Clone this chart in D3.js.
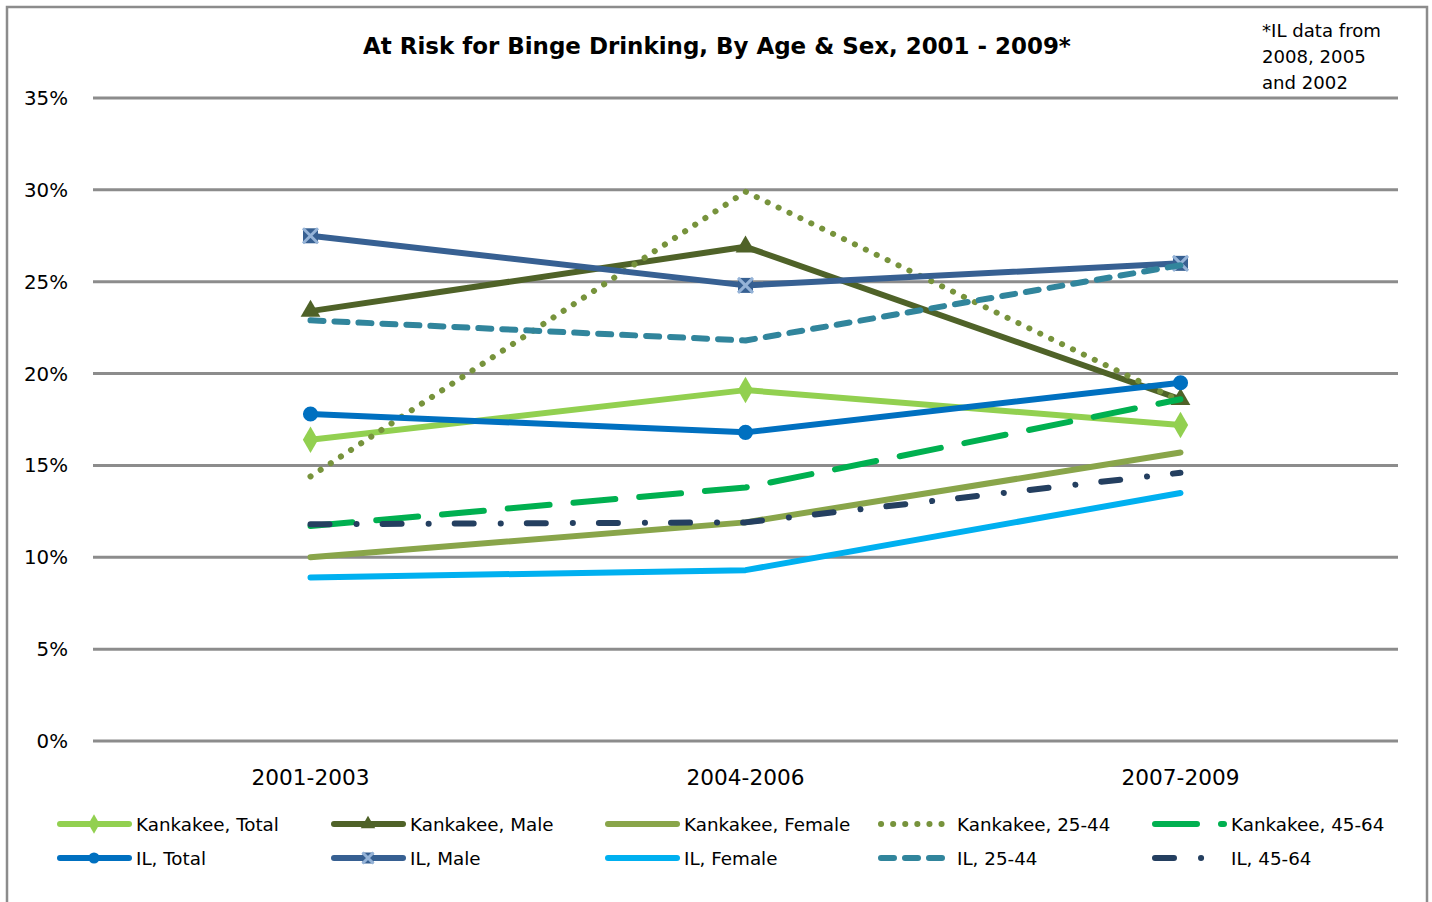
<!DOCTYPE html>
<html><head><meta charset="utf-8">
<script src="https://cdn.jsdelivr.net/npm/d3@7"></script>
<style>body{margin:0;background:#fff}svg{display:block}text{font-family:"DejaVu Sans",sans-serif;fill:#000}</style>
</head><body>
<svg id="c" width="1432" height="902"></svg>
<script>
const categories = ["2001-2003", "2004-2006", "2007-2009"];
const yTicks = [0, 5, 10, 15, 20, 25, 30, 35];
const seriesNames = ["Kankakee, Total", "Kankakee, Male", "Kankakee, Female", "Kankakee, 25-44", "Kankakee, 45-64",
                     "IL, Total", "IL, Male", "IL, Female", "IL, 25-44", "IL, 45-64"];
const kankakeeTotal  = [16.4, 19.1, 17.2];
const kankakeeMale   = [23.4, 26.9, 18.6];
const kankakeeFemale = [10.0, 11.9, 15.7];
const kankakee2544   = [14.4, 29.9, 18.5];
const kankakee4564   = [11.7, 13.8, 18.6];
const ilTotal        = [17.8, 16.8, 19.5];
const ilMale         = [27.5, 24.8, 26.0];
const ilFemale       = [8.9, 9.3, 13.5];
const il2544         = [22.9, 21.8, 25.9];
const il4564         = [11.8, 11.9, 14.6];
const seriesValues = [kankakeeTotal, kankakeeMale, kankakeeFemale, kankakee2544, kankakee4564,
                      ilTotal, ilMale, ilFemale, il2544, il4564];
const titleText = "At Risk for Binge Drinking, By Age & Sex, 2001 - 2009*";
const noteLines = ["*IL data from", "2008, 2005", "and 2002"];

const styles = [
  {color:"#92d050", dash:null, marker:"diamond"},
  {color:"#4f6228", dash:null, marker:"triangle"},
  {color:"#89a54a", dash:null, marker:null},
  {color:"#77933c", dash:"0.1,12", marker:null},
  {color:"#00b050", dash:"42,24", marker:null},
  {color:"#0070c0", dash:null, marker:"circle"},
  {color:"#376092", dash:null, marker:"xsquare"},
  {color:"#00b0f0", dash:null, marker:null},
  {color:"#31859c", dash:"13,11", marker:null},
  {color:"#243f60", dash:"19,27,0.1,26", marker:null}
];

const svg = d3.select("#c");
svg.append("rect").attr("x",7).attr("y",7).attr("width",1420).attr("height",905)
  .attr("fill","none").attr("stroke","#8c8c8c").attr("stroke-width",2.5);

const x = d3.scaleBand().domain(categories).range([93,1398]);
const y = d3.scaleLinear().domain([0,35]).range([741,98]);

// fit a group of texts so that a sample reaches a target width
function fit(sel, sampleNode, target, base){
  const w = sampleNode.getComputedTextLength();
  const s = base*target/w;
  sel.attr("font-size", s);
  return s;
}

svg.append("g").selectAll("line").data(yTicks).join("line")
  .attr("x1",93).attr("x2",1398).attr("y1",d=>y(d)).attr("y2",d=>y(d))
  .attr("stroke","#8c8c8c").attr("stroke-width",3);

const yl = svg.append("g").selectAll("text").data(yTicks).join("text")
  .attr("x",68).attr("y",d=>y(d)+7).attr("text-anchor","end").attr("font-size",20)
  .text(d=>d+"%");
fit(yl, yl.nodes()[7], 44, 20);

const xl = svg.append("g").selectAll("text").data(categories).join("text")
  .attr("x",d=>x(d)+x.bandwidth()/2).attr("y",785).attr("text-anchor","middle").attr("font-size",20)
  .text(d=>d);
fit(xl, xl.nodes()[0], 118, 20);

const title = svg.append("text").attr("x",717).attr("y",54).attr("text-anchor","middle")
  .attr("font-size",22).attr("font-weight","bold").text(titleText);
fit(title, title.node(), 708, 22);

const note = svg.append("g").selectAll("text").data(noteLines).join("text")
  .attr("x",1262).attr("y",(d,i)=>37+i*26).attr("font-size",18).text(d=>d);
fit(note, note.nodes()[0], 119, 18);

function markerPath(type, s){
  if(type==="diamond") return d3.symbol(d3.symbolDiamond, s*s*0.9)();
  if(type==="triangle") return d3.symbol(d3.symbolTriangle, s*s*0.75)();
  if(type==="circle") return d3.symbol(d3.symbolCircle, s*s*0.8)();
  return null;
}
function drawMarker(g, type, color, cx, cy, s){
  if(!type) return;
  if(type==="xsquare"){
    const h=s/2;
    g.append("rect").attr("x",cx-h).attr("y",cy-h).attr("width",s).attr("height",s).attr("fill",color);
    g.append("path").attr("d",`M${cx-h},${cy-h}L${cx+h},${cy+h}M${cx-h},${cy+h}L${cx+h},${cy-h}`)
      .attr("stroke","#95b3d7").attr("stroke-width",3);
    return;
  }
  g.append("path").attr("d",markerPath(type,s)).attr("transform",`translate(${cx},${cy})`).attr("fill",color);
}

const line = d3.line().x((d,i)=>x(categories[i])+x.bandwidth()/2).y(d=>y(d));
const plot = svg.append("g");
seriesValues.forEach((vals,k)=>{
  const st = styles[k];
  const g = plot.append("g");
  g.append("path").attr("d",line(vals)).attr("fill","none").attr("stroke",st.color)
    .attr("stroke-width",6).attr("stroke-linejoin","round").attr("stroke-linecap","round")
    .attr("stroke-dasharray",st.dash);
  vals.forEach((v,i)=>drawMarker(g, st.marker, st.color, x(categories[i])+x.bandwidth()/2, y(v), 15));
});

const legCols = [57,331,605,878,1152];
const legRows = [824,858];
const legend = svg.append("g");
const legTexts = [];
seriesNames.forEach((name,k)=>{
  const st = styles[k];
  const lx = legCols[k%5], ly = legRows[Math.floor(k/5)];
  const g = legend.append("g");
  g.append("line").attr("x1",lx+3).attr("x2",lx+72).attr("y1",ly).attr("y2",ly)
    .attr("stroke",st.color).attr("stroke-width",6).attr("stroke-linecap","round")
    .attr("stroke-dasharray",st.dash);
  drawMarker(g, st.marker, st.color, lx+37, ly, 11);
  legTexts.push(g.append("text").attr("x",lx+79).attr("y",ly+7).attr("font-size",19).text(name).node());
});
fit(d3.selectAll(legTexts), legTexts[0], 143, 19);
</script>
</body></html>
